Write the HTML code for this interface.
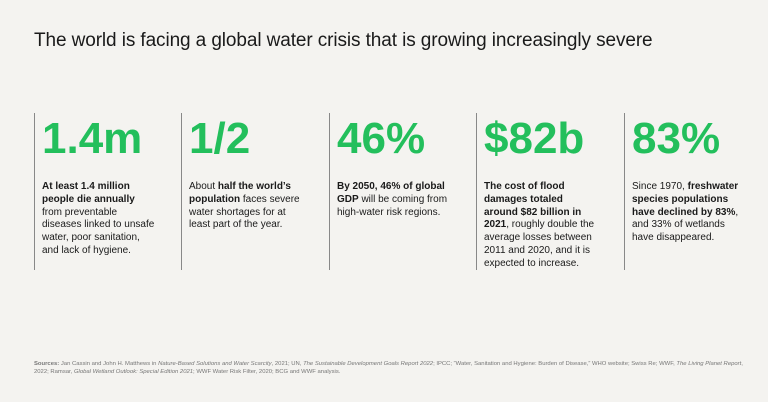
<!DOCTYPE html>
<html><head><meta charset="utf-8"><style>
body{margin:0;width:768px;height:402px;background:#f4f3f0;font-family:"Liberation Sans",sans-serif;position:relative;overflow:hidden;color:#1a1a1a}
h1{position:absolute;left:34px;top:30px;margin:0;font-size:19px;font-weight:normal;letter-spacing:-0.1px}
.col{position:absolute;top:113px;height:157px;border-left:1px solid #888;padding-left:7px;width:130px}
.num{font-size:44px;font-weight:bold;color:#23bf5c;line-height:1;margin-top:4px}
.txt{position:absolute;top:68px;left:7px;font-size:10px;line-height:12.8px;width:140px;white-space:nowrap}
.src{position:absolute;left:34px;top:360px;font-size:5.9px;line-height:8px;color:#777;width:730px;white-space:nowrap}
</style></head><body>
<h1>The world is facing a global water crisis that is growing increasingly severe</h1>
<div class="col" style="left:34px"><div class="num">1.4m</div><div class="txt"><b>At least 1.4 million<br>people die annually</b><br>from preventable<br>diseases linked to unsafe<br>water, poor sanitation,<br>and lack of hygiene.</div></div>
<div class="col" style="left:181px"><div class="num">1/2</div><div class="txt">About <b>half the world’s<br>population</b> faces severe<br>water shortages for at<br>least part of the year.</div></div>
<div class="col" style="left:329px"><div class="num">46%</div><div class="txt"><b>By 2050, 46% of global<br>GDP</b> will be coming from<br>high-water risk regions.</div></div>
<div class="col" style="left:476px"><div class="num">$82b</div><div class="txt"><b>The cost of flood<br>damages totaled<br>around $82 billion in<br>2021</b>, roughly double the<br>average losses between<br>2011 and 2020, and it is<br>expected to increase.</div></div>
<div class="col" style="left:624px"><div class="num">83%</div><div class="txt">Since 1970, <b>freshwater<br>species populations<br>have declined by 83%</b>,<br>and 33% of wetlands<br>have disappeared.</div></div>
<div class="src"><b>Sources:</b> Jan Cassin and John H. Matthews in <i>Nature-Based Solutions and Water Scarcity</i>, 2021; UN, <i>The Sustainable Development Goals Report 2022</i>; IPCC; “Water, Sanitation and Hygiene: Burden of Disease,” WHO website; Swiss Re; WWF, <i>The Living Planet Report</i>,<br>2022; Ramsar, <i>Global Wetland Outlook: Special Edition 2021</i>; WWF Water Risk Filter, 2020; BCG and WWF analysis.</div>
</body></html>
